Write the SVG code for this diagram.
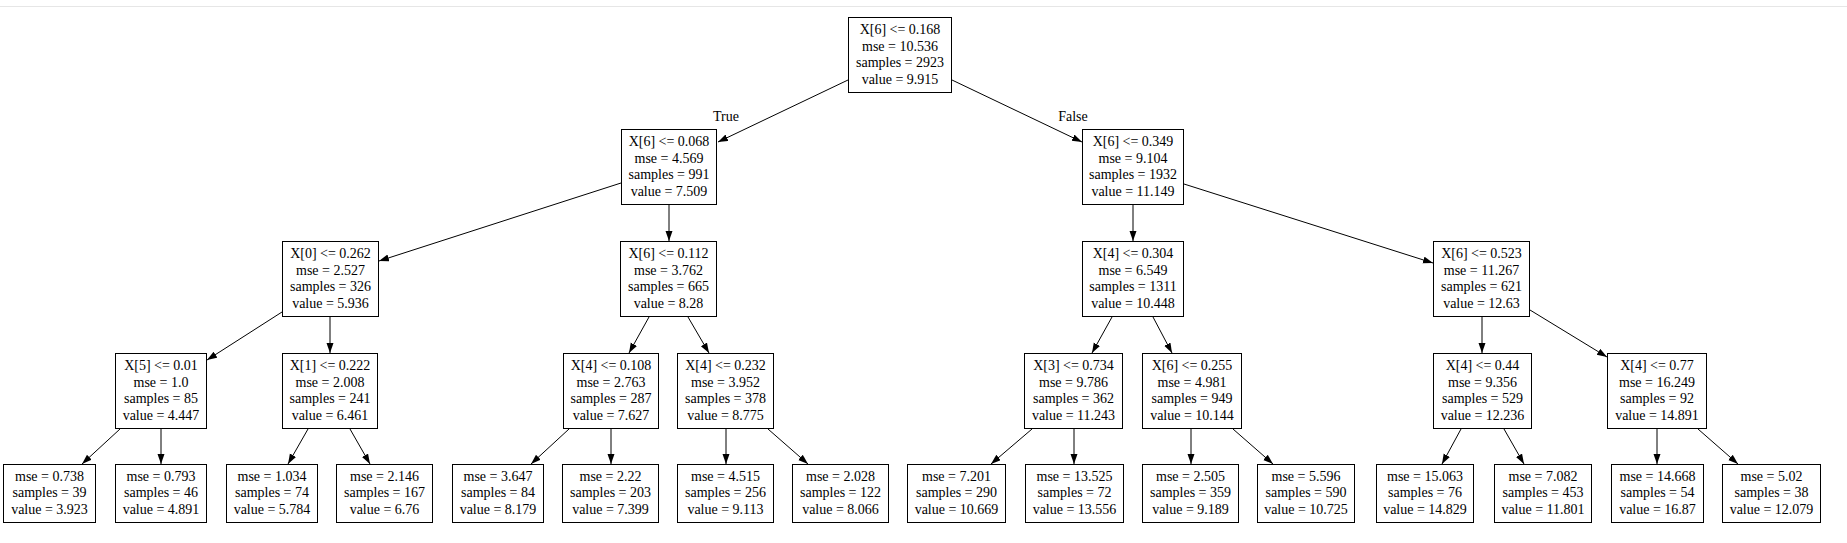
<svg xmlns="http://www.w3.org/2000/svg" width="1847" height="543" viewBox="0 0 1847 543">
<style>
.n rect{fill:#fff;stroke:#000;stroke-width:1}
text{font-family:"Liberation Serif","Times New Roman",serif;font-size:14px;fill:#000;text-anchor:middle}
.e line{stroke:#000;stroke-width:1;marker-end:url(#ah)}
</style>
<defs>
<marker id="ah" markerUnits="userSpaceOnUse" markerWidth="10" markerHeight="8" refX="10" refY="3.5" orient="auto">
<path d="M0,0 L10,3.5 L0,7 z" fill="#000"/>
</marker>
</defs>
<rect width="1847" height="543" fill="#fff"/>
<line x1="0" y1="6.5" x2="1847" y2="6.5" stroke="#e6e6e6"/>
<g class="e">
<line x1="848" y1="80" x2="718" y2="142"/>
<line x1="952" y1="80" x2="1082" y2="142"/>
<line x1="621" y1="183" x2="379" y2="261"/>
<line x1="669" y1="205" x2="669" y2="241"/>
<line x1="282" y1="312" x2="207" y2="360"/>
<line x1="330" y1="317" x2="330" y2="353"/>
<line x1="649" y1="317" x2="629" y2="353"/>
<line x1="688" y1="317" x2="709" y2="353"/>
<line x1="120" y1="429" x2="82" y2="464"/>
<line x1="161" y1="429" x2="161" y2="464"/>
<line x1="308" y1="429" x2="288" y2="464"/>
<line x1="350" y1="429" x2="370" y2="464"/>
<line x1="569" y1="429" x2="531" y2="464"/>
<line x1="611" y1="429" x2="611" y2="464"/>
<line x1="726" y1="429" x2="726" y2="464"/>
<line x1="768" y1="429" x2="808" y2="464"/>
<line x1="1133" y1="205" x2="1133" y2="241"/>
<line x1="1184" y1="184" x2="1433" y2="263"/>
<line x1="1112" y1="317" x2="1092" y2="353"/>
<line x1="1153" y1="317" x2="1172" y2="353"/>
<line x1="1032" y1="429" x2="991" y2="464"/>
<line x1="1074" y1="429" x2="1074" y2="464"/>
<line x1="1191" y1="429" x2="1191" y2="464"/>
<line x1="1233" y1="429" x2="1273" y2="464"/>
<line x1="1482" y1="317" x2="1482" y2="353"/>
<line x1="1530" y1="310" x2="1607" y2="357"/>
<line x1="1461" y1="429" x2="1442" y2="464"/>
<line x1="1504" y1="429" x2="1524" y2="464"/>
<line x1="1657" y1="429" x2="1657" y2="464"/>
<line x1="1698" y1="429" x2="1738" y2="464"/>
<text x="726" y="121">True</text>
<text x="1073" y="121">False</text>
</g>
<g id="n0" class="n"><rect x="848.5" y="17.5" width="103" height="75"/><text x="900" y="34">X[6] &lt;= 0.168</text><text x="900" y="50.7">mse = 10.536</text><text x="900" y="67.3">samples = 2923</text><text x="900" y="84">value = 9.915</text></g>
<g id="n1" class="n"><rect x="621.5" y="129.5" width="95" height="75"/><text x="669" y="146">X[6] &lt;= 0.068</text><text x="669" y="162.7">mse = 4.569</text><text x="669" y="179.3">samples = 991</text><text x="669" y="196">value = 7.509</text></g>
<g id="n2" class="n"><rect x="282.5" y="241.5" width="96" height="75"/><text x="330.5" y="258">X[0] &lt;= 0.262</text><text x="330.5" y="274.7">mse = 2.527</text><text x="330.5" y="291.3">samples = 326</text><text x="330.5" y="308">value = 5.936</text></g>
<g id="n3" class="n"><rect x="115.5" y="353.5" width="91" height="75"/><text x="161" y="370">X[5] &lt;= 0.01</text><text x="161" y="386.7">mse = 1.0</text><text x="161" y="403.3">samples = 85</text><text x="161" y="420">value = 4.447</text></g>
<g id="n4" class="n"><rect x="3.5" y="464.5" width="92" height="58"/><text x="49.5" y="480.5">mse = 0.738</text><text x="49.5" y="497.2">samples = 39</text><text x="49.5" y="513.8">value = 3.923</text></g>
<g id="n5" class="n"><rect x="115.5" y="464.5" width="91" height="58"/><text x="161" y="480.5">mse = 0.793</text><text x="161" y="497.2">samples = 46</text><text x="161" y="513.8">value = 4.891</text></g>
<g id="n6" class="n"><rect x="282.5" y="353.5" width="95" height="75"/><text x="330" y="370">X[1] &lt;= 0.222</text><text x="330" y="386.7">mse = 2.008</text><text x="330" y="403.3">samples = 241</text><text x="330" y="420">value = 6.461</text></g>
<g id="n7" class="n"><rect x="226.5" y="464.5" width="91" height="58"/><text x="272" y="480.5">mse = 1.034</text><text x="272" y="497.2">samples = 74</text><text x="272" y="513.8">value = 5.784</text></g>
<g id="n8" class="n"><rect x="336.5" y="464.5" width="96" height="58"/><text x="384.5" y="480.5">mse = 2.146</text><text x="384.5" y="497.2">samples = 167</text><text x="384.5" y="513.8">value = 6.76</text></g>
<g id="n9" class="n"><rect x="620.5" y="241.5" width="96" height="75"/><text x="668.5" y="258">X[6] &lt;= 0.112</text><text x="668.5" y="274.7">mse = 3.762</text><text x="668.5" y="291.3">samples = 665</text><text x="668.5" y="308">value = 8.28</text></g>
<g id="n10" class="n"><rect x="563.5" y="353.5" width="95" height="75"/><text x="611" y="370">X[4] &lt;= 0.108</text><text x="611" y="386.7">mse = 2.763</text><text x="611" y="403.3">samples = 287</text><text x="611" y="420">value = 7.627</text></g>
<g id="n11" class="n"><rect x="452.5" y="464.5" width="91" height="58"/><text x="498" y="480.5">mse = 3.647</text><text x="498" y="497.2">samples = 84</text><text x="498" y="513.8">value = 8.179</text></g>
<g id="n12" class="n"><rect x="562.5" y="464.5" width="96" height="58"/><text x="610.5" y="480.5">mse = 2.22</text><text x="610.5" y="497.2">samples = 203</text><text x="610.5" y="513.8">value = 7.399</text></g>
<g id="n13" class="n"><rect x="677.5" y="353.5" width="96" height="75"/><text x="725.5" y="370">X[4] &lt;= 0.232</text><text x="725.5" y="386.7">mse = 3.952</text><text x="725.5" y="403.3">samples = 378</text><text x="725.5" y="420">value = 8.775</text></g>
<g id="n14" class="n"><rect x="677.5" y="464.5" width="96" height="58"/><text x="725.5" y="480.5">mse = 4.515</text><text x="725.5" y="497.2">samples = 256</text><text x="725.5" y="513.8">value = 9.113</text></g>
<g id="n15" class="n"><rect x="792.5" y="464.5" width="96" height="58"/><text x="840.5" y="480.5">mse = 2.028</text><text x="840.5" y="497.2">samples = 122</text><text x="840.5" y="513.8">value = 8.066</text></g>
<g id="n16" class="n"><rect x="1082.5" y="129.5" width="101" height="75"/><text x="1133" y="146">X[6] &lt;= 0.349</text><text x="1133" y="162.7">mse = 9.104</text><text x="1133" y="179.3">samples = 1932</text><text x="1133" y="196">value = 11.149</text></g>
<g id="n17" class="n"><rect x="1082.5" y="241.5" width="101" height="75"/><text x="1133" y="258">X[4] &lt;= 0.304</text><text x="1133" y="274.7">mse = 6.549</text><text x="1133" y="291.3">samples = 1311</text><text x="1133" y="308">value = 10.448</text></g>
<g id="n18" class="n"><rect x="1024.5" y="353.5" width="98" height="75"/><text x="1073.5" y="370">X[3] &lt;= 0.734</text><text x="1073.5" y="386.7">mse = 9.786</text><text x="1073.5" y="403.3">samples = 362</text><text x="1073.5" y="420">value = 11.243</text></g>
<g id="n19" class="n"><rect x="907.5" y="464.5" width="98" height="58"/><text x="956.5" y="480.5">mse = 7.201</text><text x="956.5" y="497.2">samples = 290</text><text x="956.5" y="513.8">value = 10.669</text></g>
<g id="n20" class="n"><rect x="1025.5" y="464.5" width="98" height="58"/><text x="1074.5" y="480.5">mse = 13.525</text><text x="1074.5" y="497.2">samples = 72</text><text x="1074.5" y="513.8">value = 13.556</text></g>
<g id="n21" class="n"><rect x="1142.5" y="353.5" width="99" height="75"/><text x="1192" y="370">X[6] &lt;= 0.255</text><text x="1192" y="386.7">mse = 4.981</text><text x="1192" y="403.3">samples = 949</text><text x="1192" y="420">value = 10.144</text></g>
<g id="n22" class="n"><rect x="1142.5" y="464.5" width="96" height="58"/><text x="1190.5" y="480.5">mse = 2.505</text><text x="1190.5" y="497.2">samples = 359</text><text x="1190.5" y="513.8">value = 9.189</text></g>
<g id="n23" class="n"><rect x="1257.5" y="464.5" width="97" height="58"/><text x="1306" y="480.5">mse = 5.596</text><text x="1306" y="497.2">samples = 590</text><text x="1306" y="513.8">value = 10.725</text></g>
<g id="n24" class="n"><rect x="1433.5" y="241.5" width="96" height="75"/><text x="1481.5" y="258">X[6] &lt;= 0.523</text><text x="1481.5" y="274.7">mse = 11.267</text><text x="1481.5" y="291.3">samples = 621</text><text x="1481.5" y="308">value = 12.63</text></g>
<g id="n25" class="n"><rect x="1433.5" y="353.5" width="98" height="75"/><text x="1482.5" y="370">X[4] &lt;= 0.44</text><text x="1482.5" y="386.7">mse = 9.356</text><text x="1482.5" y="403.3">samples = 529</text><text x="1482.5" y="420">value = 12.236</text></g>
<g id="n26" class="n"><rect x="1376.5" y="464.5" width="97" height="58"/><text x="1425" y="480.5">mse = 15.063</text><text x="1425" y="497.2">samples = 76</text><text x="1425" y="513.8">value = 14.829</text></g>
<g id="n27" class="n"><rect x="1494.5" y="464.5" width="97" height="58"/><text x="1543" y="480.5">mse = 7.082</text><text x="1543" y="497.2">samples = 453</text><text x="1543" y="513.8">value = 11.801</text></g>
<g id="n28" class="n"><rect x="1607.5" y="353.5" width="99" height="75"/><text x="1657" y="370">X[4] &lt;= 0.77</text><text x="1657" y="386.7">mse = 16.249</text><text x="1657" y="403.3">samples = 92</text><text x="1657" y="420">value = 14.891</text></g>
<g id="n29" class="n"><rect x="1611.5" y="464.5" width="92" height="58"/><text x="1657.5" y="480.5">mse = 14.668</text><text x="1657.5" y="497.2">samples = 54</text><text x="1657.5" y="513.8">value = 16.87</text></g>
<g id="n30" class="n"><rect x="1722.5" y="464.5" width="98" height="58"/><text x="1771.5" y="480.5">mse = 5.02</text><text x="1771.5" y="497.2">samples = 38</text><text x="1771.5" y="513.8">value = 12.079</text></g>
</svg>
